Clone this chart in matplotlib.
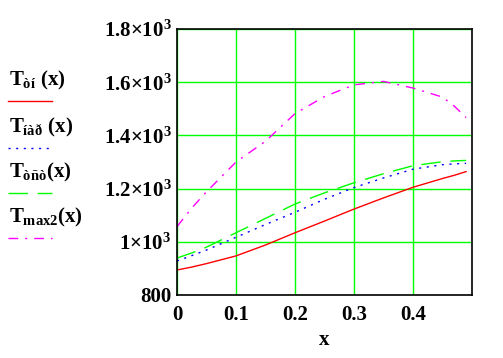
import matplotlib
matplotlib.use("Agg")
import matplotlib.pyplot as plt
from matplotlib.lines import Line2D
from matplotlib.ticker import FixedLocator, FuncFormatter

plt.rcParams["font.family"] = ["Liberation Serif", "DejaVu Serif"]
plt.rcParams["font.weight"] = "bold"
plt.rcParams["mathtext.fontset"] = "custom"
plt.rcParams["mathtext.rm"] = "Liberation Serif:bold"
plt.rcParams["mathtext.it"] = "Liberation Serif:bold"
plt.rcParams["mathtext.bf"] = "Liberation Serif:bold"

# values
x = [0.0, 0.025, 0.05, 0.1, 0.15, 0.2, 0.25, 0.3, 0.35, 0.4, 0.45, 0.47, 0.49]
t_tn = [894, 905, 918, 947, 988, 1034, 1078, 1123, 1165, 1205, 1238, 1250, 1264]
t_nar = [928, 948, 969, 1017, 1065, 1111, 1160, 1204, 1240, 1273, 1290, 1293, 1295]
t_tst = [939, 958, 980, 1034, 1088, 1142, 1184, 1222, 1256, 1286, 1301, 1304, 1306]
t_max2 = [1057, 1127, 1188, 1300, 1378, 1482, 1546, 1590, 1603, 1578, 1544, 1510, 1467]

x_ticks = [0, 0.1, 0.2, 0.3, 0.4]
y_ticks = [800, 1000, 1200, 1400, 1600, 1800]
labels = [r"$T_{òí}\ (x)$", r"$T_{íàð}\ (x)$", r"$T_{òñò}(x)$", r"$T_{max2}(x)$"]

series = [
    (t_tn, dict(color="#ff0000", linestyle="-")),
    (t_nar, dict(color="#0000ff", dashes=(1.5, 4))),
    (t_tst, dict(color="#00ff00", dashes=(14, 7))),
    (t_max2, dict(color="#ff00ff", dashes=(7, 5, 1.5, 5))),
]

fig = plt.figure(figsize=(5.03, 3.58), dpi=100)
ax = fig.add_axes([177 / 503, 63 / 358, 295 / 503, 266 / 358])

for vals, style in series:
    ax.plot(x, vals, lw=1.0, **style)

ax.set_xlim(0, 0.5)
ax.set_ylim(800, 1800)
ax.xaxis.set_major_locator(FixedLocator(x_ticks))
ax.yaxis.set_major_locator(FixedLocator(y_ticks))


def yfmt(v, pos):
    if v < 1000:
        return f"{int(v)}"
    m = v / 1000
    s = "1" if abs(m - 1) < 1e-9 else f"{m:.1f}"
    return r"$%s{\times}10^{3}$" % s


ax.yaxis.set_major_formatter(FuncFormatter(yfmt))
ax.xaxis.set_major_formatter(FuncFormatter(lambda v, p: "0" if v == 0 else f"{v:.1f}"))
ax.tick_params(length=0, labelsize=15)
ax.tick_params(axis="x", pad=7)
ax.tick_params(axis="y", pad=4)
ax.grid(True, color="#00ff00", lw=1.0)
ax.set_axisbelow(True)
for sp in ax.spines.values():
    sp.set_linewidth(1.2)
ax.set_xlabel("x", fontsize=15, fontweight="bold", labelpad=4)

# legend drawn on the left side like the original
text_y = [80, 127, 172, 217]
line_y = [101, 148, 193, 238]
for lab, ty, ly, (vals, style) in zip(labels, text_y, line_y, series):
    fig.text(9 / 503, 1 - ty / 358, lab, fontsize=15, va="center", ha="left")
    fig.add_artist(Line2D([8 / 503, 52 / 503], [1 - ly / 358] * 2, lw=1.0,
                          transform=fig.transFigure, **style))

fig.savefig("out.png", dpi=100)
